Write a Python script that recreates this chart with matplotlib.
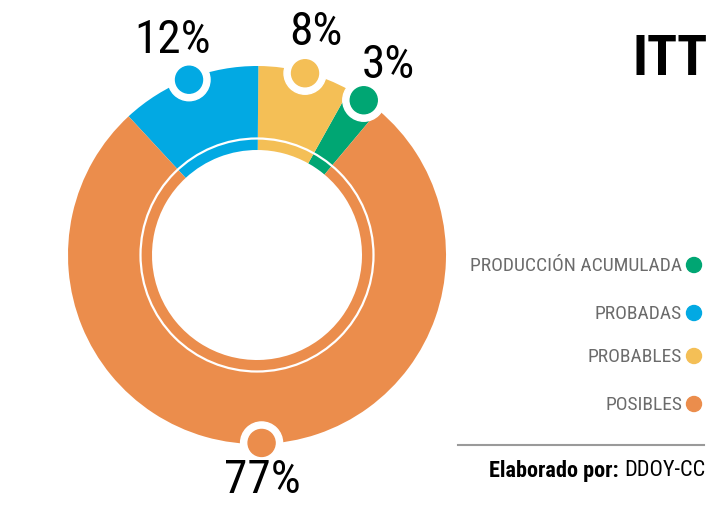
import numpy as np
import matplotlib.pyplot as plt
from matplotlib.patches import Circle

# Reservas ITT por categoría (%)
categories = ['PRODUCCIÓN ACUMULADA', 'PROBADAS', 'PROBABLES', 'POSIBLES']
shares = [3, 12, 8, 77]
colors = ['#00A673', '#02A9E3', '#F4BF56', '#EB8D4C']

# order of the wedges around the ring, counter-clockwise from the start angle
ring_order = [0, 2, 1, 3]

W, H = 708, 506
cx, cy = 257, H - 256
r_out, r_in, r_line = 189, 105, 116.5

plt.rcParams['font.family'] = ['Roboto Condensed', 'DejaVu Sans']

fig = plt.figure(figsize=(W / 100, H / 100), dpi=100)
ax = fig.add_axes([0, 0, 1, 1])

vals = [shares[i] for i in ring_order]
cols = [colors[i] for i in ring_order]
wedges, _ = ax.pie(vals, colors=cols, startangle=50, counterclock=True,
                   radius=r_out, center=(cx, cy),
                   wedgeprops=dict(width=r_out - r_in, linewidth=0))

# thin white circle splitting the ring
ax.add_patch(Circle((cx, cy), r_line, fill=False, edgecolor='white', lw=1.6, zorder=3))

# marker dot + percent label at the middle of each wedge
for w, idx in zip(wedges, ring_order):
    mid = np.radians((w.theta1 + w.theta2) / 2)
    dx, dy = np.cos(mid), np.sin(mid)
    px, py = cx + 188 * dx, cy + 188 * dy
    ax.add_patch(Circle((px, py), 21, color='white', zorder=4))
    ax.add_patch(Circle((px, py), 13.5, color=colors[idx], zorder=5))
    rl = 232 if dy > -0.5 else 224
    ax.text(cx + rl * dx, cy + rl * dy, f'{shares[idx]}%', fontsize=34,
            ha='center', va='center', color='black', zorder=6)

ax.text(708, H - 60, 'ITT', fontsize=40, fontweight='bold', ha='right', va='center')

# legend on the right
legend_y = [266, 314, 357, 405]
for name, col, ly in zip(categories, colors, legend_y):
    ax.text(682, H - ly, name, fontsize=14, color='#6B6B6B', ha='right', va='center')
    ax.add_patch(Circle((694, H - ly), 7.5, color=col))

ax.plot([458, 704], [H - 446, H - 446], color='#9A9A9A', lw=1.5)
ax.text(619, H - 471, 'Elaborado por:', fontsize=16, fontweight='bold',
        ha='right', va='center')
ax.text(705, H - 471, 'DDOY-CC', fontsize=16, ha='right', va='center')

ax.set_xlim(0, W)
ax.set_ylim(0, H)
ax.set_aspect('equal')
ax.axis('off')

fig.savefig('out.png', dpi=100, facecolor='white')
